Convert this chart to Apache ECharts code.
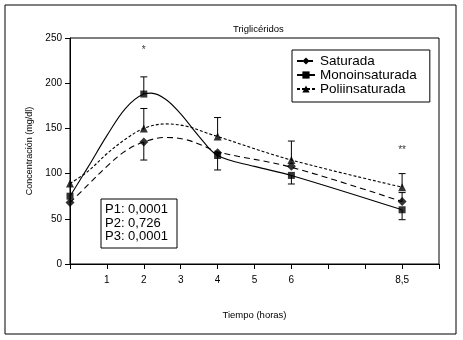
<!DOCTYPE html>
<html>
<head>
<meta charset="utf-8">
<script src="https://cdn.jsdelivr.net/npm/echarts@6/dist/echarts.min.js"></script>
<style>
  html, body { margin: 0; padding: 0; background: #fff; }
  #chart { width: 463px; height: 340px; }
</style>
</head>
<body>
<div id="chart"></div>
<script>
// puntos medidos (x = posición en el eje, 9 se rotula "8,5")
const tiempos = [0, 2, 4, 6, 9];
const saturada = [68, 135, 123, 108, 69];
const mono = [75, 188, 120, 98, 60];
const poli = [89, 150, 141, 115, 85];

// curvas ajustadas
const curvaSat = [[0, 68], [0.5, 88], [1, 108], [1.5, 125], [2, 135], [2.6, 140], [3.1, 138], [3.6, 131], [4, 124], [6, 107], [9, 69]];
const curvaMono = [[0, 75], [0.5, 108], [1, 142], [1.5, 172], [2, 188], [2.2, 189], [2.6, 182], [3, 166], [3.5, 141], [4, 120], [5, 108], [6, 98], [9, 60]];
const curvaPoli = [[0, 89], [0.5, 103], [1, 122], [1.5, 138], [2, 150], [2.6, 155], [3.2, 152], [3.7, 145], [4, 141], [6, 115], [9, 85]];

// barras de error: [x, desde, hasta]
const errores = [
  [2, 188, 207], [2, 150, 172], [2, 135, 115],
  [4, 141, 162], [4, 123, 104],
  [6, 115, 136], [6, 98, 88.5],
  [9, 85, 100], [9, 69, 79], [9, 60, 49]
];

const asteriscos = [[2, 237, '*'], [9, 126, '**']];
const etiquetasX = { 1: '1', 2: '2', 3: '3', 4: '4', 5: '5', 6: '6', 9: '8,5' };

const font = 'Liberation Sans, Arial, sans-serif';
const chart = echarts.init(document.getElementById('chart'));

const zip = (xs, ys) => xs.map((x, i) => [x, ys[i]]);

function curva(name, data, type, symbol) {
  return {
    name: name,
    type: 'line',
    data: data,
    smooth: 0.35,
    showSymbol: false,
    symbol: symbol,
    symbolSize: 7,
    itemStyle: { color: '#000' },
    lineStyle: { color: '#000', width: 1.1, type: type },
    silent: true,
    z: 2
  };
}

function marcas(name, data, symbol, size) {
  return {
    name: name,
    type: 'scatter',
    data: data,
    symbol: symbol,
    symbolSize: size,
    itemStyle: { color: '#000' },
    z: 4
  };
}

chart.setOption({
  animation: false,
  title: {
    text: 'Triglicéridos',
    left: 228,
    top: 19,
    textStyle: { fontFamily: font, fontSize: 9.5, fontWeight: 'normal', color: '#000' }
  },
  legend: {
    data: ['Saturada', 'Monoinsaturada', 'Poliinsaturada'],
    orient: 'vertical',
    left: 292,
    top: 50,
    itemGap: 0,
    itemWidth: 18,
    itemHeight: 9,
    padding: [4, 13, 6, 4],
    borderColor: '#000',
    borderWidth: 1,
    textStyle: { fontFamily: font, fontSize: 13.5, color: '#000' }
  },
  grid: {
    left: 70, right: 24, top: 38, bottom: 76,
    show: true, borderColor: '#000', borderWidth: 1
  },
  xAxis: {
    type: 'value',
    min: 0, max: 10, interval: 1,
    name: 'Tiempo (horas)',
    nameLocation: 'middle',
    nameGap: 46,
    nameTextStyle: { fontFamily: font, fontSize: 9.5, color: '#000' },
    axisLine: { lineStyle: { color: '#000', width: 1 } },
    axisTick: { length: 5, lineStyle: { color: '#000' } },
    axisLabel: {
      margin: 11,
      fontFamily: font, fontSize: 10, color: '#000',
      showMinLabel: true, showMaxLabel: true,
      formatter: v => etiquetasX[v] || ''
    },
    splitLine: { show: false }
  },
  yAxis: {
    type: 'value',
    min: 0, max: 250, interval: 50,
    name: 'Concentración (mg/dl)',
    nameLocation: 'middle',
    nameGap: 35,
    nameTextStyle: { fontFamily: font, fontSize: 9, color: '#000' },
    axisLine: { show: true, lineStyle: { color: '#000', width: 1 } },
    axisTick: { show: true, length: 5, lineStyle: { color: '#000' } },
    axisLabel: { margin: 8, fontFamily: font, fontSize: 10, color: '#000' },
    splitLine: { show: false }
  },
  graphic: [
    {
      type: 'rect',
      shape: { x: 5, y: 5, width: 451, height: 329 },
      style: { fill: 'none', stroke: '#000', lineWidth: 1 },
      silent: true
    },
    {
      type: 'rect',
      shape: { x: 101, y: 199, width: 76, height: 49 },
      style: { fill: '#fff', stroke: '#000', lineWidth: 1 },
      z: 10
    },
    {
      type: 'text',
      left: 105,
      top: 203,
      z: 11,
      style: {
        text: 'P1: 0,0001\nP2: 0,726\nP3: 0,0001',
        font: '13px ' + font,
        lineHeight: 13.5,
        fill: '#000'
      }
    }
  ],
  series: [
    curva('Saturada', curvaSat, [6, 4], 'diamond'),
    curva('Monoinsaturada', curvaMono, 'solid', 'rect'),
    curva('Poliinsaturada', curvaPoli, [3, 2], 'triangle'),
    marcas('Saturada', zip(tiempos, saturada), 'diamond', 9),
    marcas('Monoinsaturada', zip(tiempos, mono), 'rect', 7),
    marcas('Poliinsaturada', zip(tiempos, poli), 'triangle', 8),
    {
      type: 'custom',
      data: errores,
      z: 3,
      silent: true,
      renderItem: function (params, api) {
        const a = api.coord([api.value(0), api.value(1)]);
        const b = api.coord([api.value(0), api.value(2)]);
        const st = { stroke: '#000', lineWidth: 1 };
        return {
          type: 'group',
          children: [
            { type: 'line', shape: { x1: a[0], y1: a[1], x2: b[0], y2: b[1] }, style: st },
            { type: 'line', shape: { x1: b[0] - 3.5, y1: b[1], x2: b[0] + 3.5, y2: b[1] }, style: st }
          ]
        };
      }
    },
    {
      type: 'scatter',
      data: asteriscos,
      symbolSize: 0,
      silent: true,
      label: {
        show: true,
        position: 'inside',
        formatter: p => p.data[2],
        fontFamily: font, fontSize: 10, color: '#000'
      }
    }
  ]
});
</script>
</body>
</html>
